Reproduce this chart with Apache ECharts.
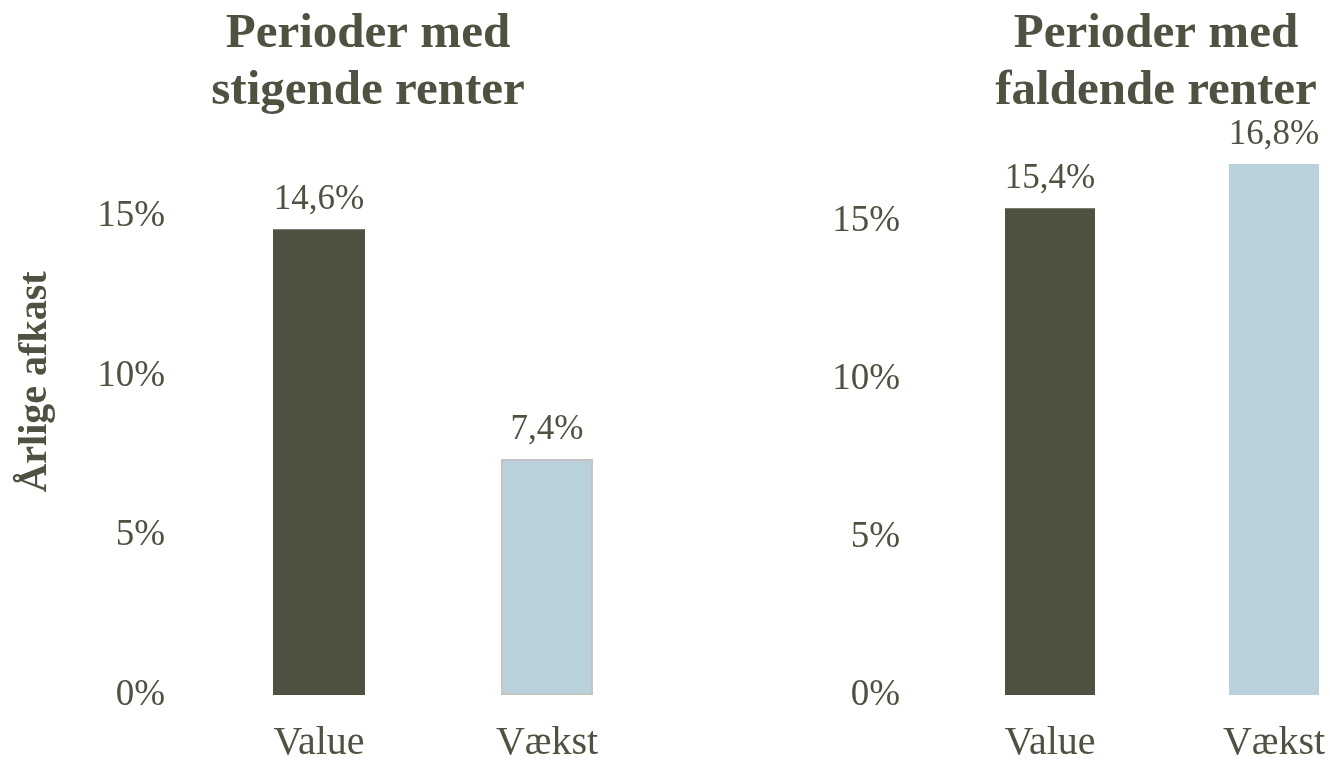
<!DOCTYPE html>
<html>
<head>
<meta charset="utf-8">
<script src="https://cdn.jsdelivr.net/npm/echarts@6/dist/echarts.min.js"></script>
<style>html,body{margin:0;padding:0;background:#fff;}#c{width:1330px;height:761px;}</style>
</head>
<body>
<div id="c"></div>
<script>
const categories = ['Value', 'Vækst'];
const risingRates = [14.6, 7.4];
const fallingRates = [15.4, 16.8];
const titles = ['Perioder med\nstigende renter', 'Perioder med\nfaldende renter'];
const yAxisTitle = 'Årlige afkast';

const FONT = '"Liberation Serif", "DejaVu Serif", serif';
const TXT = '#4f5240';
const DARK = '#4e5240';
const LIGHT = '#b8d1db';

function fmtLabel(p) { return p.value.toFixed(1).replace('.', ',') + '%'; }

function barData(vals, borderFirstLight) {
  return vals.map((v, i) => ({
    value: v,
    itemStyle: i === 0 ? { color: DARK } :
      { color: LIGHT, borderColor: borderFirstLight ? '#c4c4c4' : LIGHT, borderWidth: borderFirstLight ? 2 : 0 }
  }));
}

const chart = echarts.init(document.getElementById('c'));
const yAxisCommon = {
  type: 'value', min: 0, max: 20, interval: 5,
  splitLine: { show: false }, axisLine: { show: false }, axisTick: { show: false },
  axisLabel: { formatter: '{value}%', fontFamily: FONT, fontSize: 37, color: TXT, showMaxLabel: false }
};
const xAxisCommon = {
  type: 'category', data: categories,
  axisLine: { show: false }, axisTick: { show: false },
  axisLabel: { fontFamily: FONT, fontSize: 40, color: TXT, margin: 28 }
};
const labelCommon = { show: true, position: 'top', distance: 12, formatter: fmtLabel, fontFamily: FONT, fontSize: 35, color: TXT };
const titleStyle = { fontFamily: FONT, fontSize: 49, fontWeight: 'bold', color: TXT, lineHeight: 57 };

chart.setOption({
  backgroundColor: '#fff',
  animation: false,
  title: [
    { text: titles[0], left: 363, top: 1, textAlign: 'center', textStyle: titleStyle },
    { text: titles[1], left: 1151, top: 1, textAlign: 'center', textStyle: titleStyle }
  ],
  graphic: [{
    type: 'text', x: 36, y: 382, rotation: Math.PI / 2,
    style: { text: yAxisTitle, fontFamily: FONT, fontSize: 40, fontWeight: 'bold', fill: TXT, align: 'center', verticalAlign: 'middle' }
  }],
  grid: [
    { left: 205, width: 456, top: 57, height: 638, outerBoundsMode: 'none' },
    { left: 938, width: 448, top: 63, height: 632, outerBoundsMode: 'none' }
  ],
  xAxis: [
    Object.assign({ gridIndex: 0 }, xAxisCommon),
    Object.assign({ gridIndex: 1 }, xAxisCommon)
  ],
  yAxis: [
    Object.assign({ gridIndex: 0 }, yAxisCommon, { axisLabel: Object.assign({}, yAxisCommon.axisLabel, { margin: 40 }) }),
    Object.assign({ gridIndex: 1 }, yAxisCommon, { axisLabel: Object.assign({}, yAxisCommon.axisLabel, { margin: 38 }) })
  ],
  series: [
    { type: 'bar', xAxisIndex: 0, yAxisIndex: 0, barWidth: 92, data: barData(risingRates, true), label: labelCommon },
    { type: 'bar', xAxisIndex: 1, yAxisIndex: 1, barWidth: 90, data: barData(fallingRates, false), label: labelCommon }
  ]
});
</script>
</body>
</html>
